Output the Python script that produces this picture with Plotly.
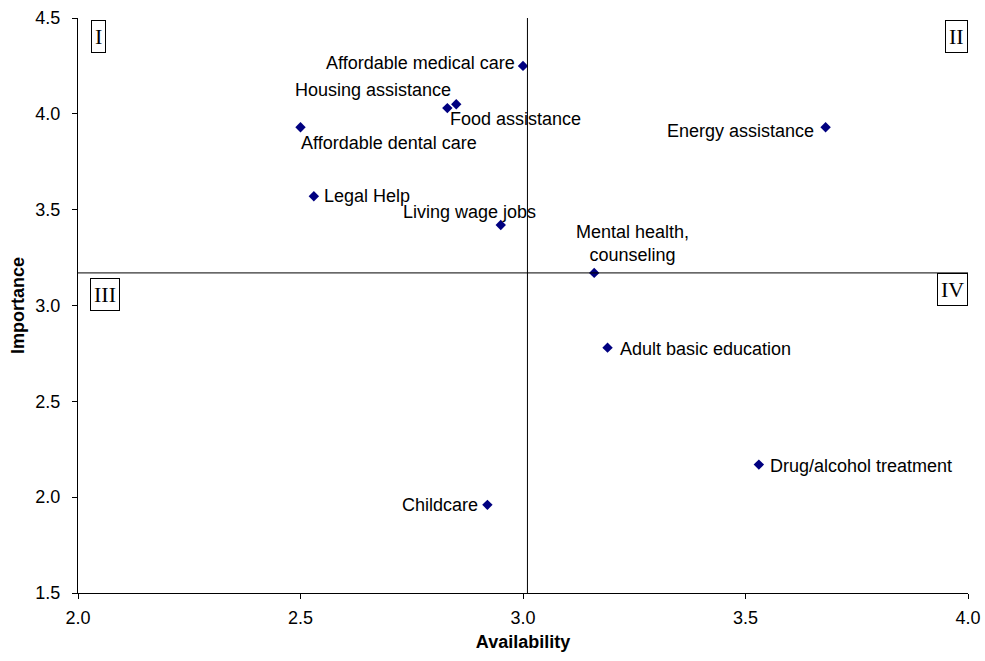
import plotly.graph_objects as go

services = ["Affordable medical care", "Housing assistance", "Food assistance",
            "Affordable dental care", "Energy assistance", "Legal Help",
            "Living wage jobs", "Mental health,<br>counseling", "Adult basic education",
            "Drug/alcohol treatment", "Childcare"]
availability = [3.00, 2.83, 2.85, 2.50, 3.68, 2.53, 2.95, 3.16, 3.19, 3.53, 2.92]
importance = [4.25, 4.03, 4.05, 3.93, 3.93, 3.57, 3.42, 3.17, 2.78, 2.17, 1.96]

x_ticks = [2.0, 2.5, 3.0, 3.5, 4.0]
y_ticks = [1.5, 2.0, 2.5, 3.0, 3.5, 4.0, 4.5]
avail_ref = 3.01
import_ref = 3.17
quadrants = ["I", "II", "III", "IV"]

# label placement (xanchor, yanchor, xshift, yshift)
label_style = [
    ("right", "middle", -6, 3),
    ("right", "middle", 6, 18),
    ("left", "middle", -8, -15),
    ("left", "middle", -2, -16),
    ("right", "middle", -10, -4),
    ("left", "middle", 8, 0),
    ("center", "middle", -31, 13),
    ("center", "bottom", 38, 6),
    ("left", "middle", 10, -1),
    ("left", "middle", 9, -1),
    ("right", "middle", -7, 0),
]

FONT = "Liberation Sans, Arial, sans-serif"

fig = go.Figure()
fig.add_trace(go.Scatter(
    x=availability, y=importance, mode="markers",
    marker=dict(symbol="diamond", size=8, color="#000080"),
    hoverinfo="skip", showlegend=False,
))

for name, xv, yv, (xa, ya, xs, ys) in zip(services, availability, importance, label_style):
    fig.add_annotation(x=xv, y=yv, text=name, showarrow=False,
                       xanchor=xa, yanchor=ya, xshift=xs, yshift=ys,
                       font=dict(family=FONT, size=18, color="black"))

fig.add_shape(type="line", xref="x", yref="paper", x0=avail_ref, x1=avail_ref, y0=0, y1=1,
              line=dict(color="black", width=1))
fig.add_shape(type="line", xref="paper", yref="y", x0=0, x1=1, y0=import_ref, y1=import_ref,
              line=dict(color="black", width=1))

quad_pos = [(0.0146, 0.997, "left"), (1.0, 0.997, "right"),
            (0.0135, 0.547, "left"), (1.0, 0.557, "right")]
for q, (px, py, xa) in zip(quadrants, quad_pos):
    fig.add_annotation(xref="paper", yref="paper", x=px, y=py, text=q, showarrow=False,
                       xanchor=xa, yanchor="top",
                       font=dict(family="Liberation Serif, Times New Roman, serif", size=22, color="black"),
                       bordercolor="black", borderwidth=1, borderpad=3, bgcolor="white")

axis_font = dict(family=FONT, size=18, color="black")
title_font = dict(family=FONT, size=18, color="black")
fig.update_xaxes(range=[2.0, 4.0], tickvals=x_ticks, ticktext=[f"{v:.1f}" for v in x_ticks],
                 showgrid=False, zeroline=False, showline=True, linecolor="black", linewidth=1,
                 ticks="outside", ticklen=5, tickcolor="black", tickfont=axis_font,
                 ticklabelstandoff=3, automargin=False,
                 title=dict(text="<b>Availability</b>", font=title_font, standoff=8))
fig.update_yaxes(range=[1.5, 4.5], tickvals=y_ticks, ticktext=[f"{v:.1f}" for v in y_ticks],
                 showgrid=False, zeroline=False, showline=True, linecolor="black", linewidth=1,
                 ticks="outside", ticklen=5, tickcolor="black", tickfont=axis_font,
                 ticklabelstandoff=8, automargin=False,
                 title=dict(text="<b>Importance</b>", font=title_font, standoff=6))

fig.update_layout(width=985, height=661, margin=dict(l=78, r=17, t=18, b=68),
                  plot_bgcolor="white", paper_bgcolor="white",
                  font=axis_font)

# remove the default page margin so the figure fills the window exactly
fig.write_html("out.html", config={"displayModeBar": False},
               post_script="document.body.style.margin='0';")
